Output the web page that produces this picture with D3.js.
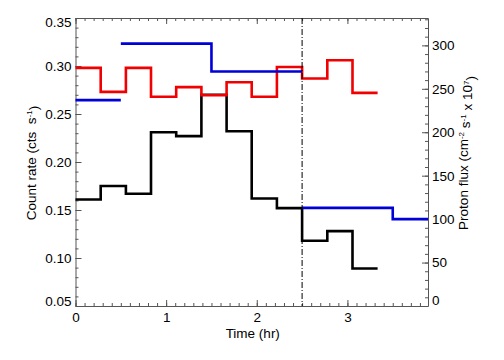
<!DOCTYPE html>
<html><head><meta charset="utf-8">
<script src="https://cdn.jsdelivr.net/npm/d3@7"></script>
<style>
body{margin:0;background:#fff;}
text{font-family:"Liberation Sans",Arial,sans-serif;}
</style></head>
<body><svg id="c" width="504" height="360"></svg>
<script>
// ---- data ----
const binStart = [0, 0.278, 0.556, 0.833, 1.111, 1.389, 1.667, 1.944, 2.222, 2.5, 2.778, 3.056];
const binEndLast = 3.333;
const redRate   = [0.298, 0.273, 0.298, 0.268, 0.278, 0.2695, 0.283, 0.268, 0.299, 0.287, 0.306, 0.272];
const blackRate = [0.161, 0.175, 0.167, 0.231, 0.227, 0.270, 0.232, 0.162, 0.152, 0.118, 0.128, 0.089];
const protonStart = [0, 0.5, 1.5, 2.5, 3.5];
const protonEnd   = [0.5, 1.5, 2.5, 3.5, 3.889];
const protonFlux  = [237, 302, 270, 113, 100];
const protonGroup = [0, 1, 1, 2, 2];
const markerTime = 2.5;
const xTicks = [0, 1, 2, 3];
const yLTicks = [0.05, 0.10, 0.15, 0.20, 0.25, 0.30, 0.35];
const yRTicks = [0, 50, 100, 150, 200, 250, 300];

const svg = d3.select("#c");
const L = 75.5, R = 428, T = 18, B = 306;
const x = d3.scaleLinear().domain([0, 3.889]).range([L, R]);
const yL = d3.scaleLinear().domain([0.05, 0.35]).range([B, T]);
const yR = d3.scaleLinear().domain([0, 331.5]).range([B, T]);

const fs = "13.5px";
const axisColor = "#555";

function styleAxis(g){
  g.selectAll("path.domain").attr("stroke", axisColor).attr("stroke-width",1);
  g.selectAll("line").attr("stroke", axisColor).attr("stroke-width",1);
  g.selectAll("text").attr("fill","#000").style("font-size",fs).attr("font-family",null);
}

// minor ticks
const xMinor = d3.range(0, 39).map(i => i/10);
const yLMinor = d3.range(5, 36).map(i => i/100);
const yRMinor = d3.range(0, 34).map(i => i*10);

svg.append("g").attr("transform",`translate(0,${B})`)
  .call(d3.axisBottom(x).tickValues(xMinor).tickFormat("").tickSize(-3).tickSizeOuter(0))
  .call(styleAxis).call(g=>g.select(".domain").remove());
svg.append("g").attr("transform",`translate(0,${T})`)
  .call(d3.axisTop(x).tickValues(xMinor).tickFormat("").tickSize(-3).tickSizeOuter(0))
  .call(styleAxis).call(g=>g.select(".domain").remove());
svg.append("g").attr("transform",`translate(${L},0)`)
  .call(d3.axisLeft(yL).tickValues(yLMinor).tickFormat("").tickSize(-3).tickSizeOuter(0))
  .call(styleAxis).call(g=>g.select(".domain").remove());
svg.append("g").attr("transform",`translate(${R},0)`)
  .call(d3.axisRight(yR).tickValues(yRMinor).tickFormat("").tickSize(-3).tickSizeOuter(0))
  .call(styleAxis).call(g=>g.select(".domain").remove());

// major axes
svg.append("g").attr("transform",`translate(0,${B})`)
  .call(d3.axisBottom(x).tickValues(xTicks).tickFormat(d3.format("d")).tickSize(-6).tickSizeOuter(0).tickPadding(6))
  .call(styleAxis);
svg.append("g").attr("transform",`translate(0,${T})`)
  .call(d3.axisTop(x).tickValues(xTicks).tickFormat("").tickSize(-6).tickSizeOuter(0))
  .call(styleAxis);
const gl = svg.append("g").attr("transform",`translate(${L},0)`)
  .call(d3.axisLeft(yL).tickValues(yLTicks).tickFormat(d3.format(".2f")).tickSize(-6).tickSizeOuter(0).tickPadding(4))
  .call(styleAxis);
gl.selectAll(".tick text").attr("dy", d => d===0.05 ? "-0.05em" : d===0.35 ? "0.6em" : "0.32em");
const gr = svg.append("g").attr("transform",`translate(${R},0)`)
  .call(d3.axisRight(yR).tickValues(yRTicks).tickFormat(d3.format("d")).tickSize(-6).tickSizeOuter(0).tickPadding(4))
  .call(styleAxis);
gr.selectAll(".tick text").attr("dy", d => d===0 ? "-0.1em" : "0.32em");

// data lines
const line = d3.line().curve(d3.curveStepAfter);
function stepPts(vals, scale){
  const pts = binStart.map((t,i)=>[x(t), scale(vals[i])]);
  pts.push([x(binEndLast), scale(vals[vals.length-1])]);
  return pts;
}
svg.append("path").attr("d", line(stepPts(blackRate, yL)))
  .attr("fill","none").attr("stroke","#000").attr("stroke-width",2.6);
svg.append("path").attr("d", line(stepPts(redRate, yL)))
  .attr("fill","none").attr("stroke","#f00000").attr("stroke-width",2.6);

const groups = d3.groups(protonFlux.map((v,i)=>({s:protonStart[i], e:protonEnd[i], v, g:protonGroup[i]})), d=>d.g);
groups.forEach(([g, segs])=>{
  const pts = segs.map(d=>[x(d.s), yR(d.v)]);
  const last = segs[segs.length-1];
  pts.push([x(last.e), yR(last.v)]);
  svg.append("path").attr("d", line(pts))
    .attr("fill","none").attr("stroke","#0000d8").attr("stroke-width",2.6);
});

// dash-dot marker
svg.append("line").attr("x1",x(markerTime)).attr("x2",x(markerTime)).attr("y1",T).attr("y2",B)
  .attr("stroke","#000").attr("stroke-width",1).attr("stroke-dasharray","6,2,1,2");

// titles
svg.append("text").attr("x",(L+R)/2+1).attr("y",338).attr("text-anchor","middle")
  .style("font-size",fs).text("Time (hr)");
const lt = svg.append("text").attr("transform","translate(36,163) rotate(-90)")
  .attr("text-anchor","middle").style("font-size",fs);
lt.append("tspan").text("Count rate (cts\u00a0\u00a0s");
lt.append("tspan").attr("dy","-0.45em").style("font-size","8px").text("-1");
lt.append("tspan").attr("dy","0.45em").text(")");
const rt = svg.append("text").attr("transform","translate(467.5,153) rotate(-90)")
  .attr("text-anchor","middle").style("font-size",fs);
rt.append("tspan").text("Proton flux (cm");
rt.append("tspan").attr("dy","-0.45em").style("font-size","8px").text("-2");
rt.append("tspan").attr("dy","0.45em").text("\u00a0s");
rt.append("tspan").attr("dy","-0.45em").style("font-size","8px").text("-1");
rt.append("tspan").attr("dy","0.45em").text("\u00a0x 10");
rt.append("tspan").attr("dy","-0.45em").style("font-size","8px").text("7");
rt.append("tspan").attr("dy","0.45em").text(")");
</script></body></html>
